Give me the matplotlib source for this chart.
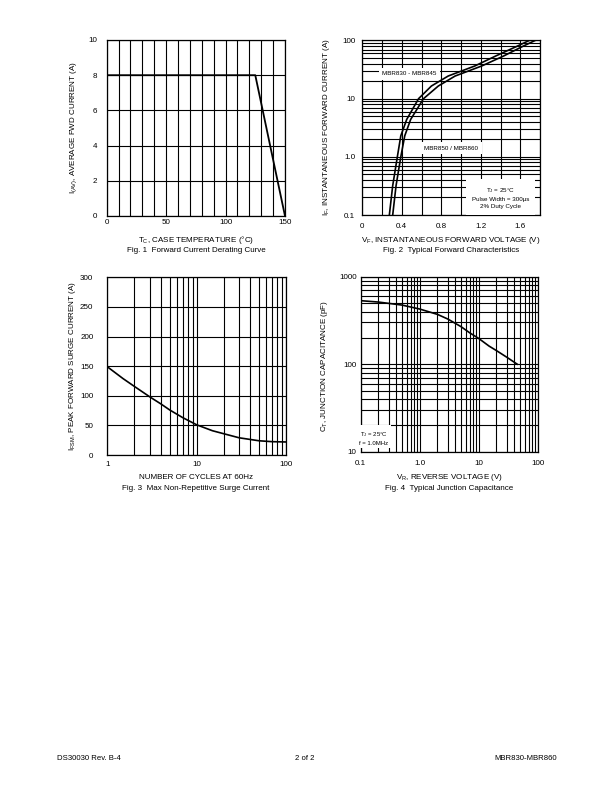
import matplotlib
matplotlib.use("Agg")
import matplotlib.pyplot as plt
from matplotlib.ticker import FixedLocator, NullFormatter, LogLocator

plt.rcParams["font.family"] = ["Liberation Sans", "DejaVu Sans"]
plt.rcParams["mathtext.fontset"] = "custom"
plt.rcParams["mathtext.rm"] = "Liberation Sans"
plt.rcParams["mathtext.it"] = "Liberation Sans:italic"
plt.rcParams["mathtext.default"] = "rm"

# Fig. 1  forward current derating
derate_tc = [0, 125, 150]
derate_i = [8, 8, 0]

# Fig. 2  forward characteristics (V read at given I)
fwd_i = [0.1, 0.32, 1, 2.3, 4.4, 10, 16.5, 24.5, 36.5, 54, 80, 100]
fwd_v_830 = [0.274, 0.308, 0.355, 0.39, 0.45, 0.57, 0.70, 0.87, 1.14, 1.35, 1.57, 1.69]
fwd_v_850 = [0.308, 0.342, 0.39, 0.43, 0.49, 0.62, 0.77, 0.94, 1.21, 1.43, 1.63, 1.75]

# Fig. 3  surge current
surge_n = [1, 1.5, 2, 3, 4, 5, 7, 10, 15, 20, 30, 50, 70, 100]
surge_i = [149, 129, 116, 98, 86, 76, 63, 51, 41, 36, 29, 24, 22.5, 22]

# Fig. 4  junction capacitance
cap_v = [0.1, 0.2, 0.5, 1, 2, 3, 5, 7, 10, 15, 20, 30, 45]
cap_c = [532, 513, 474, 427, 371, 328, 269, 229, 197, 161, 143, 120, 100]

W, H = 612, 792
FS = 5.8
GRID = dict(color="black", lw=0.8)

fig = plt.figure(figsize=(W / 100, H / 100), dpi=100)


def add_ax(x0, y0, x1, y1):
    return fig.add_axes([x0 / W, 1 - y1 / H, (x1 - x0) / W, (y1 - y0) / H])


def style(ax, xpad, ypad):
    for s in ax.spines.values():
        s.set_linewidth(0.9)
    ax.tick_params(which="both", length=0, labelsize=FS)
    ax.tick_params(axis="x", pad=xpad)
    ax.tick_params(axis="y", pad=ypad)
    ax.grid(True, which="both", **GRID)
    ax.set_axisbelow(True)


def ftext(x, y, s, **kw):
    fig.text(x / W, 1 - y / H, s, fontsize=FS, ha="center", va="center", **kw)


# ---------- Fig 1 ----------
ax1 = add_ax(106.7, 40, 285, 216)
ax1.plot(derate_tc, derate_i, color="black", lw=1.3)
ax1.set_xlim(0, 150)
ax1.set_ylim(0, 10)
ax1.set_xticks([0, 50, 100, 150])
ax1.xaxis.set_minor_locator(FixedLocator(range(0, 151, 10)))
ax1.set_yticks([0, 2, 4, 6, 8, 10])
style(ax1, 2, 7)
ftext(74, 127, r"I$_{(AV)}$, AVERAGE FWD CURRENT (A)", rotation=90)
ftext(196, 240, r"T$_{C}$, CASE TEMPERATURE (°C)")
ftext(196, 251, "Fig. 1  Forward Current Derating Curve")

# ---------- Fig 2 ----------
ax2 = add_ax(362.3, 40.5, 540, 215)
ax2.plot(fwd_v_830, fwd_i, color="black", lw=1.2, solid_joinstyle="round")
ax2.plot(fwd_v_850, fwd_i, color="black", lw=1.2, solid_joinstyle="round")
ax2.set_yscale("log")
ax2.set_xlim(0, 1.8)
ax2.set_ylim(0.1, 100)
ax2.set_xticks([0, 0.4, 0.8, 1.2, 1.6])
ax2.set_xticklabels(["0", "0.4", "0.8", "1.2", "1.6"])
ax2.xaxis.set_minor_locator(FixedLocator([0.2, 0.6, 1.0, 1.4, 1.8]))
ax2.set_yticks([0.1, 1, 10, 100])
ax2.set_yticklabels(["0.1", "1.0", "10", "100"])
ax2.yaxis.set_minor_locator(LogLocator(base=10, subs=range(2, 10)))
ax2.yaxis.set_minor_formatter(NullFormatter())
style(ax2, 6, 5)
box = dict(facecolor="white", edgecolor="none", pad=2.5)
ax2.text(0.48, 27, "MBR830 - MBR845", fontsize=FS - 1.3, ha="center", va="center",
         bbox=box)
ax2.text(0.9, 1.4, "MBR850 / MBR860", fontsize=FS - 1.3, ha="center", va="center",
         bbox=box)
ax2.text(1.40, 0.2, "T$_{J}$ = 25°C\nPulse Width = 300µs\n2% Duty Cycle",
         fontsize=FS - 1.3, ha="center", va="center", linespacing=1.5,
         bbox=dict(facecolor="white", edgecolor="none", pad=4))
ftext(327, 127, r"I$_{F}$, INSTANTANEOUS FORWARD CURRENT (A)", rotation=90)
ftext(451, 240, r"V$_{F}$, INSTANTANEOUS FORWARD VOLTAGE (V)")
ftext(451, 251, "Fig. 2  Typical Forward Characteristics")

# ---------- Fig 3 ----------
ax3 = add_ax(107.3, 277.3, 286, 455)
ax3.plot(surge_n, surge_i, color="black", lw=1.2, solid_joinstyle="round")
ax3.set_xscale("log")
ax3.set_xlim(1, 100)
ax3.set_ylim(0, 300)
ax3.set_xticks([1, 10, 100])
ax3.set_xticklabels(["1", "10", "100"])
ax3.xaxis.set_minor_locator(LogLocator(base=10, subs=range(2, 10)))
ax3.xaxis.set_minor_formatter(NullFormatter())
ax3.set_yticks(range(0, 301, 50))
style(ax3, 4, 10)
ftext(73, 366, r"I$_{FSM}$, PEAK FORWARD SURGE CURRENT (A)", rotation=90)
ftext(196, 478, "NUMBER OF CYCLES AT 60Hz")
ftext(196, 488, "Fig. 3  Max Non-Repetitive Surge Current")

# ---------- Fig 4 ----------
ax4 = add_ax(360.7, 276.7, 537.7, 451.7)
ax4.plot(cap_v, cap_c, color="black", lw=1.2, solid_joinstyle="round")
ax4.set_xscale("log")
ax4.set_yscale("log")
ax4.set_xlim(0.1, 100)
ax4.set_ylim(10, 1000)
ax4.set_xticks([0.1, 1, 10, 100])
ax4.set_xticklabels(["0.1", "1.0", "10", "100"])
ax4.set_yticks([10, 100, 1000])
ax4.set_yticklabels(["10", "100", "1000"])
for a in (ax4.xaxis, ax4.yaxis):
    a.set_minor_locator(LogLocator(base=10, subs=range(2, 10)))
    a.set_minor_formatter(NullFormatter())
style(ax4, 6, 3)
ax4.text(0.165, 14.5, "T$_{J}$ = 25°C\nf = 1.0MHz", fontsize=FS - 1.5,
         ha="center", va="center", linespacing=1.5,
         bbox=dict(facecolor="white", edgecolor="none", pad=2))
ftext(325, 366, r"C$_{T}$, JUNCTION CAPACITANCE (pF)", rotation=90)
ftext(449, 478, r"V$_{R}$, REVERSE VOLTAGE (V)")
ftext(449, 488, "Fig. 4  Typical Junction Capacitance")

# ---------- footer ----------
FOOT = 5.6
fig.text(57 / W, 1 - 758 / H, "DS30030 Rev. B-4", fontsize=FOOT, ha="left", va="center")
fig.text(305 / W, 1 - 758 / H, "2 of 2", fontsize=FOOT, ha="center", va="center")
fig.text(557 / W, 1 - 758 / H, "MBR830-MBR860", fontsize=FOOT, ha="right", va="center")

fig.savefig("out.png", dpi=100)
